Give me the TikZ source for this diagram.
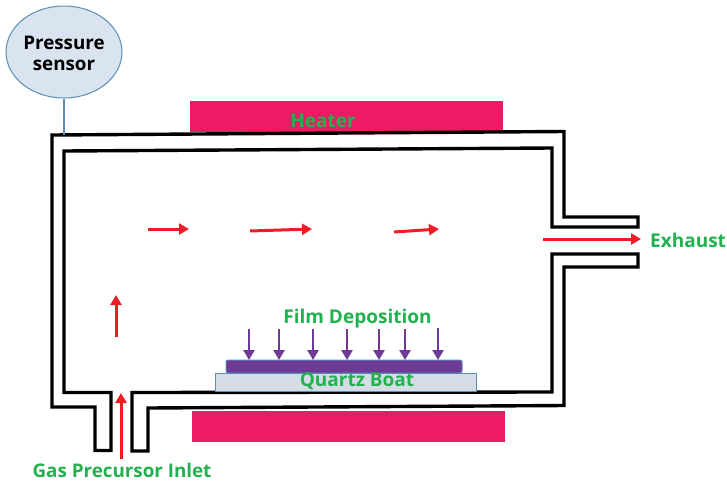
\documentclass[tikz,border=0pt]{standalone}
\usepackage{fontspec}
\setmainfont{Open Sans}
\usetikzlibrary{arrows.meta,shapes.geometric}
\definecolor{pinkheat}{HTML}{ED1A66}
\definecolor{labelgreen}{HTML}{22B14F}
\definecolor{flowred}{HTML}{EE1C25}
\definecolor{violetdep}{HTML}{6F3A96}
\definecolor{sensorfill}{HTML}{DAE3F0}
\definecolor{edgeblue}{HTML}{5B8DB8}
\definecolor{boatfill}{HTML}{D6DCE6}
\tikzset{
 wall/.style={draw=black,line width=3.4pt,line join=miter},
 heater/.style={fill=pinkheat,draw=none},
 lab/.style={text=labelgreen,font=\bfseries\fontsize{19}{22}\selectfont,inner sep=0pt},
 flow/.style={draw=flowred,line width=3pt,-{Triangle[length=10pt,width=11pt]}},
 dep/.style={draw=violetdep,line width=2.8pt,-{Triangle[length=10pt,width=11pt]}},
}
\begin{document}
\begin{tikzpicture}[x=1pt,y=-1pt]
\useasboundingbox (0,0) rectangle (727,482);
\fill[white] (0,0) rectangle (727,482);
% heaters
\path[heater] (190,101) rectangle (503,132);
\path[heater] (192,411) rectangle (505,442);
% walls
\draw[wall] (52,135) -- (564,131.5) -- (564,217) -- (638,217) -- (638,227) -- (552,227) -- (552,148) -- (64,151) -- (64,392.5) -- (111,392.5) -- (111,450.5) -- (95,450.5) -- (95,407) -- (52,407) -- cycle;
\draw[wall] (638,254) -- (552,254) -- (552,392) -- (132,392.5) -- (132,451) -- (148,451) -- (148,408) -- (564,405.5) -- (564,267) -- (638,267) -- cycle;
% sensor
\node[ellipse,draw=edgeblue,fill=sensorfill,line width=1pt,minimum width=116pt,minimum height=92pt,inner sep=0pt] (sensor) at (64,52) {};
\node[inner sep=0pt,align=center,font=\bfseries\fontsize{18.8}{21}\selectfont] (sensorlab) at (sensor.center) [yshift=-1pt] {Pressure\\sensor};
\coordinate (tap) at (64,135);
\draw[draw=edgeblue,line width=2.8pt] (sensor.south) -- (tap);
% boat and film
\node[draw=edgeblue,fill=boatfill,line width=1pt,minimum width=261pt,minimum height=18pt,inner sep=0pt] (boat) at (345.5,382) {};
\node[draw=edgeblue,fill=violetdep,line width=1pt,rounded corners=2pt,minimum width=236pt,minimum height=13pt,inner sep=0pt] (film) at (344,366.5) {};
% labels
\node[lab] (heat) at (323,121) {Heater};
\node[lab] (filmlab) at (357.5,319) {Film Deposition};
\node[lab] (boatlab) at (357,381.5) {Quartz Boat};
\node[lab,anchor=west] (exh) at (650,240.5) {Exhaust};
\node[lab,font=\bfseries\fontsize{18.8}{20}\selectfont] (gas) at (122,470) {Gas Precursor Inlet};
% flow arrows
\coordinate (f1a) at (148,229); \coordinate (f1b) at (189,229);
\coordinate (f2a) at (250,231); \coordinate (f2b) at (312,229);
\coordinate (f3a) at (394,232); \coordinate (f3b) at (439,229);
\coordinate (f4a) at (116,337); \coordinate (f4b) at (116,295);
\coordinate (f5a) at (121,459); \coordinate (f5b) at (121,393);
\coordinate (f6a) at (543,239); \coordinate (f6b) at (641,239);
\foreach \a/\b in {f1a/f1b,f2a/f2b,f3a/f3b,f4a/f4b,f5a/f5b,f6a/f6b} \draw[flow] (\a) -- (\b);
% deposition arrows
\foreach \i/\x/\t in {1/249/329,2/279/329,3/313/329,4/347/329,5/379/329,6/405/329,7/438/328}{
 \coordinate (d\i a) at (\x,\t);
 \coordinate (d\i b) at (\x,360);
 \draw[dep] (d\i a) -- (d\i b);
}
\end{tikzpicture}
\end{document}
